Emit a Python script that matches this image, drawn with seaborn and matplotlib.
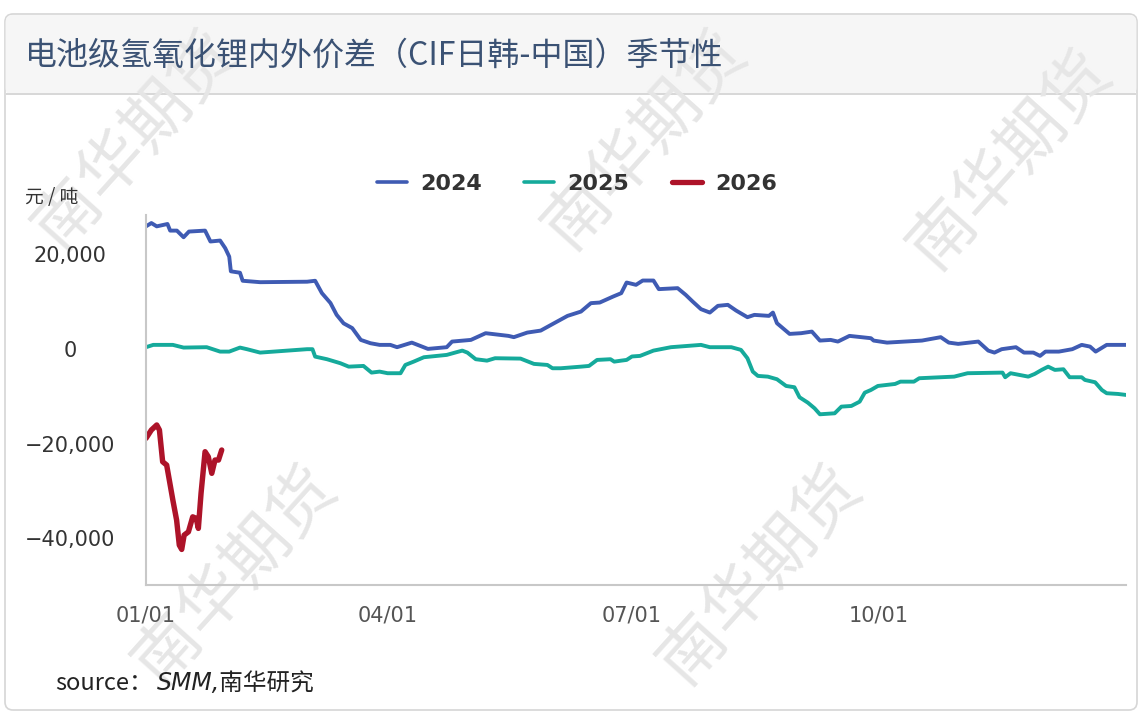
import numpy as np
import pandas as pd
import matplotlib
matplotlib.use("Agg")
import matplotlib.pyplot as plt
from matplotlib.patches import FancyBboxPatch, Rectangle
import seaborn as sns

# values (day of year, 元/吨)
days_2024 = [0, 2, 4, 8, 9, 11.5, 14, 16, 22, 24, 27.6, 29.5, 31, 31.6, 35, 36, 42.5, 60, 63, 65.5,
             68.7, 71, 73.6, 76.8, 80, 83.6, 87, 91, 93.5, 99, 105, 112, 114, 121, 126.5, 135, 137, 142,
             147, 152, 157, 162, 165.7, 169, 174, 177, 179, 182.5, 185, 189, 191, 198, 201, 203.6, 206.7,
             210, 213, 216.7, 219.8, 224, 226.6, 232, 233.5, 235, 239.7, 244, 248, 251, 255, 257.7, 262,
             270, 271, 276, 289, 296, 299, 302.5, 310, 313.7, 316, 318.7, 324, 327, 330.5, 333, 335, 340,
             345, 348.5, 351.6, 353.7, 357.8, 365]
vals_2024 = [25900, 26600, 25900, 26400, 25000, 25000, 23600, 24800, 25000, 22700, 22900, 21300, 19500,
             16400, 16100, 14400, 14100, 14200, 14400, 11800, 9700, 7200, 5400, 4400, 1900, 1200, 850, 850,
             360, 1330, 0, 360, 1550, 1900, 3320, 2750, 2480, 3450, 3870, 5430, 6980, 7890, 9670, 9800,
             11070, 11780, 14030, 13540, 14450, 14450, 12630, 12840, 11430, 10010, 8400, 7680, 9100, 9310,
             8100, 6700, 7190, 6980, 7680, 5430, 3170, 3320, 3660, 1760, 1900, 1550, 2750, 2260, 1760,
             1330, 1760, 2480, 1330, 1060, 1550, -360, -780, -60, 360, -780, -780, -1480, -570, -570, -60,
             850, 490, -570, 850, 850]

days_2025 = [0, 2.7, 10, 14, 22.6, 27.6, 31, 35, 37.6, 42.5, 60, 62, 63, 67.4, 72.4, 75.5, 81, 84, 87,
             90, 94.8, 96.6, 99.7, 103.5, 112, 117.8, 119.7, 122.8, 127, 130, 139.5, 144.5, 149.5, 151.4,
             154.5, 162, 165, 168, 173, 174.4, 177, 179, 181, 184, 189, 195.5, 206.7, 210, 218, 221.6, 224,
             226, 227.9, 231.6, 235, 238.4, 241.5, 243.4, 246.5, 249, 251, 256.5, 259, 262.7, 265.8, 267.7,
             270, 272.6, 279, 281, 286, 288, 301, 306, 319, 320, 322, 328.6, 331, 333.6, 336, 338.5, 341.7,
             344, 348.5, 349.7, 353.5, 356, 357.8, 362, 365]
vals_2025 = [360, 850, 850, 280, 360, -570, -570, 280, -60, -780, -60, -60, -1630, -2180, -3030, -3750,
             -3600, -5010, -4800, -5140, -5140, -3390, -2690, -1760, -1270, -360, -780, -2180, -2480, -1970,
             -2050, -3170, -3390, -4090, -4090, -3750, -3600, -2330, -2180, -2690, -2480, -2330, -1600,
             -1480, -360, 360, 850, 360, 360, -210, -1970, -4800, -5710, -5860, -6410, -7830, -8100, -10220,
             -11360, -12550, -13820, -13610, -12200, -12060, -11150, -9250, -8680, -7830, -7410, -6920,
             -6920, -6200, -5860, -5140, -5010, -5990, -5140, -5860, -5290, -4440, -3750, -4440, -4300,
             -5990, -5990, -6560, -7050, -8680, -9370, -9520, -9730]

days_2026 = [0, 2, 4, 5, 6.2, 7.7, 10, 11.4, 12.4, 13.3, 14.2, 15.8, 17.4, 18.7, 19.5, 20.5, 22, 23.2,
             24.5, 25.7, 27, 28.2]
vals_2026 = [-18900, -17140, -16080, -17140, -23850, -24550, -31950, -36180, -41470, -42380, -39360,
             -38660, -35490, -35820, -37940, -30530, -21730, -22790, -26300, -23490, -23490, -21370]

tick_days = [0, 90, 181, 273]
tick_labels = ["01/01", "04/01", "07/01", "10/01"]
y_ticks = [-40000, -20000, 0, 20000]

df = pd.concat([
    pd.DataFrame({"day": days_2024, "value": vals_2024, "year": "2024"}),
    pd.DataFrame({"day": days_2025, "value": vals_2025, "year": "2025"}),
    pd.DataFrame({"day": days_2026, "value": vals_2026, "year": "2026"}),
])

sns.set_style("white")
plt.rcParams["font.family"] = ["Noto Sans CJK SC", "DejaVu Sans"]

W, H = 1141, 713
fig = plt.figure(figsize=(W / 100, H / 100), dpi=100)


def fx(x):
    return x / W


def fy(y):
    return 1 - y / H


# card + header band
card = FancyBboxPatch((5 / 100, (H - 710) / 100), 1132 / 100, 696 / 100,
                      boxstyle="round,pad=0,rounding_size=0.08", transform=fig.dpi_scale_trans,
                      facecolor="white", edgecolor="#d6d6d6", lw=1.2, zorder=-5)
fig.patches.append(card)
header = FancyBboxPatch((5.6 / 100, (H - 95) / 100), 1130.8 / 100, 80 / 100,
                        boxstyle="round,pad=0,rounding_size=0.07", transform=fig.dpi_scale_trans,
                        facecolor="#f6f6f6", edgecolor="none", zorder=-4)
fig.patches.append(header)
fig.patches.append(Rectangle((fx(6), fy(95)), fx(1130), 0.003, transform=fig.transFigure,
                             facecolor="#d8d8d8", edgecolor="none", zorder=-3))

# watermark
for cx, cy in [(135, 140), (645, 140), (1010, 160), (235, 575), (760, 575)]:
    fig.text(fx(cx), fy(cy), "南华期货", fontsize=48, color="#e6e6e6", rotation=48,
             ha="center", va="center", zorder=-2)

fig.text(fx(25), fy(56), "电池级氢氧化锂内外价差（CIF日韩-中国）季节性", fontsize=23,
         color="#3b5274", va="center", ha="left")

ax = fig.add_axes([fx(146), fy(585), fx(1126) - fx(146), fy(215) - fy(585)])
ax.patch.set_alpha(0)

palette = {"2024": "#3f5bb3", "2025": "#15aa9b", "2026": "#ad1329"}
sns.lineplot(data=df, x="day", y="value", hue="year", palette=palette, size="year",
             sizes={"2024": 2.8, "2025": 2.8, "2026": 3.9}, ax=ax, legend=False, sort=False)

ax.set_xlim(0, 365)
ax.set_ylim(-49900, 28300)
ax.set_xticks(tick_days)
ax.set_xticklabels(tick_labels, family="DejaVu Sans")
ax.set_yticks(y_ticks)
ax.set_yticklabels([f"{v:,}".replace("-", "−") for v in y_ticks], family="DejaVu Sans", ha="center")
ax.tick_params(axis="x", direction="in", length=9, color="#cccccc", labelsize=15,
               labelcolor="#555555", pad=15)
ax.tick_params(axis="y", direction="in", length=10, color="#cccccc", labelsize=15,
               labelcolor="#333333", pad=54.5)
ax.set_xlabel("")
ax.set_ylabel("")
for s in ["top", "right"]:
    ax.spines[s].set_visible(False)
for s in ["left", "bottom"]:
    ax.spines[s].set_color("#c8c8c8")
    ax.spines[s].set_linewidth(1.5)

handles = [plt.Line2D([], [], color=palette["2024"], lw=2.6),
           plt.Line2D([], [], color=palette["2025"], lw=2.6),
           plt.Line2D([], [], color=palette["2026"], lw=3.8)]
fig.legend(handles, ["2024", "2025", "2026"], loc="center", bbox_to_anchor=(fx(577), fy(184)),
           ncol=3, frameon=False, handlelength=1.35, columnspacing=1.9, handletextpad=0.6,
           prop={"family": "DejaVu Sans", "size": 16, "weight": "bold"}, labelcolor="#333333")

fig.text(fx(25), fy(197), "元 / 吨", fontsize=13.5, color="#333333", va="center", ha="left")

fig.text(fx(55), fy(683), "source：", fontsize=17, color="#222222", va="center", ha="left")
fig.text(fx(157), fy(683), "SMM,南华研究", fontsize=17, color="#222222", va="center", ha="left",
         style="italic", family=["DejaVu Sans", "Noto Sans CJK SC"])

fig.savefig("out.png", dpi=100)
